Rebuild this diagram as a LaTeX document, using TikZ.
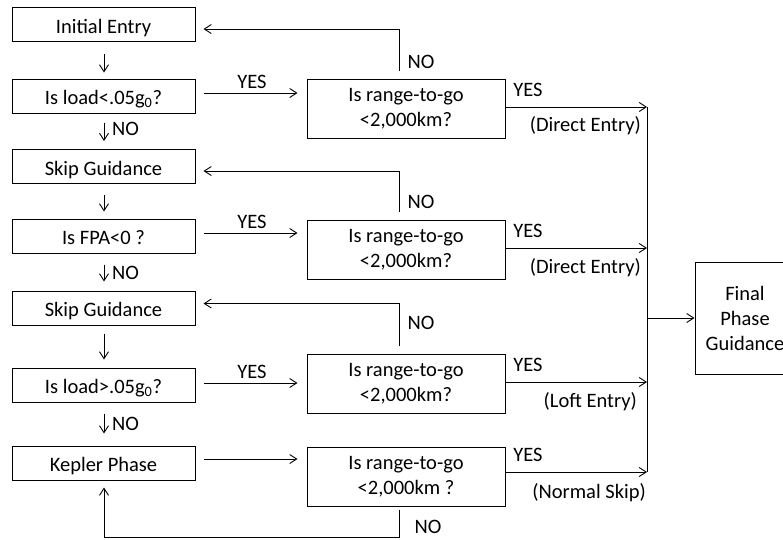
\documentclass[tikz,border=0pt]{standalone}
\usepackage{fontspec}
\setmainfont{Carlito}
\usetikzlibrary{arrows.meta,calc}

\tikzset{
  box/.style={draw, line width=1pt, inner sep=0pt, align=center,
              font=\fontsize{20.5}{25}\selectfont},
  leftbox/.style={box, minimum width=183pt, minimum height=34pt,
                  text height=17pt, text depth=0pt},
  testbox/.style={box, minimum width=198pt, minimum height=59pt},
  finalbox/.style={box, minimum width=100pt, minimum height=112pt},
  arr/.style={line width=0.9pt, -{Straight Barb[length=7pt,width=9pt]}},
  wire/.style={line width=0.9pt},
  lbl/.style={inner sep=0pt, font=\fontsize{20.5}{25}\selectfont},
}

\begin{document}
\begin{tikzpicture}[x=1pt, y=-1pt]
\useasboundingbox (0,0) rectangle (783,539);

% left column
\node[leftbox] (e0) at (103.5,24.5) {Initial Entry};
\node[leftbox] (q1) at (103.5,96)   {Is load<.05g\textsubscript{0}?};
\node[leftbox] (s1) at (103.5,166.5){Skip Guidance};
\node[leftbox] (q2) at (103.5,236)  {Is FPA<0 ?};
\node[leftbox] (s2) at (103.5,308)  {Skip Guidance};
\node[leftbox] (q3) at (103.5,385)  {Is load>.05g\textsubscript{0}?};
\node[leftbox] (kp) at (103.5,463)  {Kepler Phase};

% range tests
\node[testbox] (r1) at (406,108.5) {Is range-to-go\\<2,000km?};
\node[testbox] (r2) at (406,249.5) {Is range-to-go\\<2,000km?};
\node[testbox] (r3) at (406,384)   {Is range-to-go\\<2,000km?};
\node[testbox] (r4) at (406,476.5) {Is range-to-go\\<2,000km ?};

% final phase
\node[finalbox] (fp) at (745,318) {Final\\Phase\\Guidance};
\coordinate (bus) at (647,318);

% short arrows down the left column
\draw[arr] ($(e0.south)+(0.5,12)$) -- ($(q1.north)+(0.5,-6)$);
\draw[arr] ($(q1.south)+(0.5,9)$)  -- ($(s1.north)+(0.5,-8)$);
\draw[arr] ($(s1.south)+(0.5,11)$) -- ($(q2.north)+(0.5,-7)$);
\draw[arr] ($(q2.south)+(0.5,11)$) -- ($(s2.north)+(0.5,-9)$);
\draw[arr] ($(s2.south)+(0.5,8)$)  -- ($(q3.north)+(0.5,-8)$);
\draw[arr] ($(q3.south)+(0.5,11)$) -- ($(kp.north)+(0.5,-12)$);
\node[lbl, anchor=west] (no1) at (112,129) {NO};
\node[lbl, anchor=west] (no2) at (112,273) {NO};
\node[lbl, anchor=west] (no3) at (112,424) {NO};

% left boxes to range tests
\draw[arr] ($(q1.east)+(8,-3)$) -- ($(q1.east -| r1.west)+(-9,-3)$);
\draw[arr] ($(q2.east)+(8,-3)$) -- ($(q2.east -| r2.west)+(-9,-3)$);
\draw[arr] ($(q3.east)+(8,-2)$) -- ($(q3.east -| r3.west)+(-9,-2)$);
\draw[arr] ($(kp.east)+(8,-4)$) -- ($(kp.east -| r4.west)+(-9,-4)$);
\node[lbl] (y1) at (252,82)  {YES};
\node[lbl] (y2) at (252,222) {YES};
\node[lbl] (y3) at (252,372) {YES};

% NO loops back to the left column
\draw[arr] ($(r1.north)+(-7,-8)$) |- ($(e0.east)+(8,4.5)$);
\draw[arr] ($(r2.north)+(-7,-8)$) |- ($(s1.east)+(8,4.5)$);
\draw[arr] ($(r3.north)+(-7,-8)$) |- ($(s2.east)+(8,-4.5)$);
\draw[arr] ($(r4.south)+(-7,3)$) -- ($(r4.south)+(-7,31)$) -| ($(kp.south)+(0.5,7)$);
\node[lbl] (n1) at (421,62)  {NO};
\node[lbl] (n2) at (421,202) {NO};
\node[lbl] (n3) at (421,323) {NO};
\node[lbl] (n4) at (428,527) {NO};

% YES branches into the bus
\draw[arr] ($(r1.east)+(0,-1.5)$) -- ($(r1.east -| bus)+(0,-1.5)$);
\draw[arr] ($(r2.east)+(0,-1.5)$) -- ($(r2.east -| bus)+(0,-1.5)$);
\draw[arr] ($(r3.east)+(0,-2)$)   -- ($(r3.east -| bus)+(0,-2)$);
\draw[arr] ($(r4.east)+(0,-4.5)$) -- ($(r4.east -| bus)+(0,-4.5)$);
\draw[wire] ($(r1.east -| bus)+(0,-1.5)$) -- ($(r4.east -| bus)+(0,-4.5)$);
\draw[arr] (bus) -- (fp.west);

\node[lbl] (ry1) at (528,90)  {YES};
\node[lbl] (ry2) at (528,231) {YES};
\node[lbl] (ry3) at (528,365) {YES};
\node[lbl] (ry4) at (528,455) {YES};
\node[lbl, anchor=east] (d1) at (641,126) {(Direct Entry)};
\node[lbl, anchor=east] (d2) at (641,268) {(Direct Entry)};
\node[lbl, anchor=east] (d3) at (637,402) {(Loft Entry)};
\node[lbl, anchor=east] (d4) at (646,493) {(Normal Skip)};
\end{tikzpicture}
\end{document}
